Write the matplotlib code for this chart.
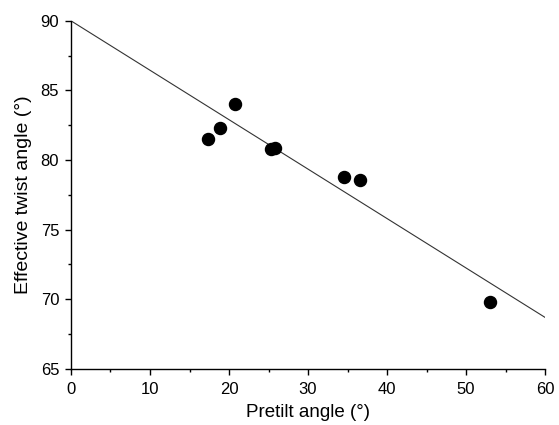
import matplotlib.pyplot as plt
from matplotlib.ticker import MultipleLocator

plt.rcParams['font.family'] = ['Liberation Sans', 'DejaVu Sans']

pretilt = [17.3, 18.8, 20.8, 25.3, 25.8, 34.6, 36.6, 53.0]
twist = [81.5, 82.3, 84.0, 80.8, 80.85, 78.8, 78.6, 69.8]

# fitted line endpoints
line_x = [0, 60]
line_y = [90, 68.7]

fig = plt.figure(figsize=(5.59, 4.25), dpi=100)
ax = fig.add_axes([0.127, 0.132, 0.848, 0.819])

ax.plot(line_x, line_y, color='#333333', lw=0.8)
ax.scatter(pretilt, twist, s=75, color='black', zorder=3)

ax.set_xlim(0, 60)
ax.set_ylim(65, 90)
ax.xaxis.set_major_locator(MultipleLocator(10))
ax.xaxis.set_minor_locator(MultipleLocator(5))
ax.yaxis.set_major_locator(MultipleLocator(5))
ax.yaxis.set_minor_locator(MultipleLocator(2.5))

for s in ['top', 'right']:
    ax.spines[s].set_visible(False)
for s in ['left', 'bottom']:
    ax.spines[s].set_linewidth(1.0)

ax.tick_params(which='major', direction='out', length=4.5, width=1, labelsize=12, pad=4)
ax.tick_params(axis='x', which='major', pad=5)
ax.tick_params(which='minor', direction='out', length=2.5, width=1)

ax.set_xlabel('Pretilt angle (°)', fontsize=13.5, labelpad=5)
ax.set_ylabel('Effective twist angle (°)', fontsize=14, labelpad=6)

fig.savefig('out.png', dpi=100)
